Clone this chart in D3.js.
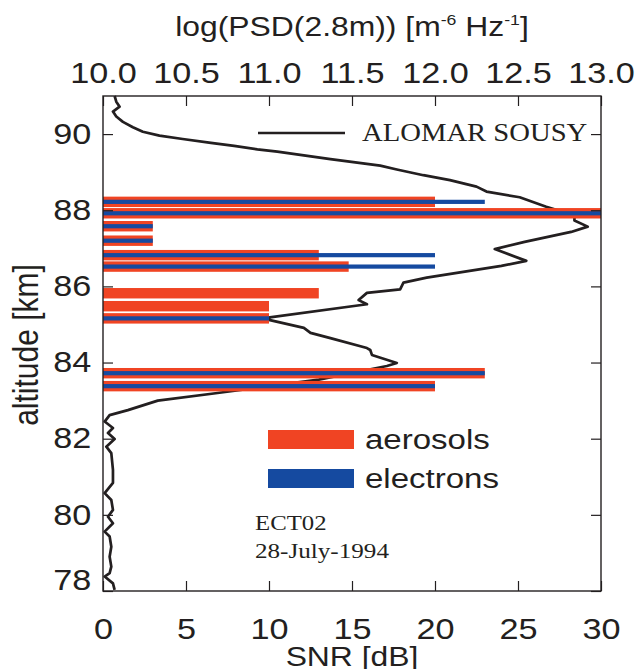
<!DOCTYPE html>
<html>
<head>
<meta charset="utf-8">
<script src="https://cdn.jsdelivr.net/npm/d3@7"></script>
<style>
  body { margin: 0; background: #ffffff; }
  svg text { font-family: 'Liberation Sans', Arial, sans-serif; fill: #231f20; }
  svg text.serif { font-family: 'Liberation Serif', 'Times New Roman', serif; }
</style>
</head>
<body>
<div id="graf"></div>
<script>
// Perfil SNR de aerosoles / electrones (barras) y log(PSD) de ALOMAR SOUSY (linea)

// I. Datos
// centro de cada celda de 300 m (km) y SNR en dB
altitudBins = [88.22, 87.92, 87.58, 87.20, 86.82, 86.52, 85.82, 85.48, 85.16, 83.72, 83.38]
aerosoles   = [20, 30, 3, 3, 13, 14.8, 13, 10, 10, 23, 20]
electrones  = [23, 30, 3, 3, 20, 20, null, null, 10, 23, 20]
anchoBin    = 0.3

// perfil de log(PSD(2.8m))
psdAltitud = [91.00, 90.85, 90.72, 90.59, 90.46, 90.32, 90.18, 90.06, 89.96, 89.87,
              89.77, 89.69, 89.60, 89.54, 89.34, 89.17, 89.07, 88.92, 88.79, 88.62,
              88.49, 88.34, 88.09, 87.87, 87.73, 87.57, 87.43, 87.17, 86.98, 86.67,
              86.54, 86.23, 86.10, 85.92, 85.83, 85.64, 85.53, 85.16, 84.91, 84.78,
              84.64, 84.38, 84.33, 84.20, 83.99, 83.91, 83.55, 83.20, 83.00, 82.75,
              82.62, 82.45, 82.28, 82.15, 81.99, 81.79, 81.62, 81.18, 80.84, 80.57,
              80.39, 80.13, 79.95, 79.78, 79.56, 79.43, 79.16, 78.90, 78.64, 78.47,
              78.38, 78.20, 78.03]
psdValor   = [10.07, 10.08, 10.10, 10.06, 10.08, 10.12, 10.18, 10.24, 10.34, 10.48,
              10.65, 10.79, 10.93, 11.05, 11.37, 11.67, 11.77, 11.93, 12.09, 12.25,
              12.31, 12.51, 12.67, 12.84, 12.84, 12.92, 12.82, 12.54, 12.36, 12.55,
              12.40, 11.95, 11.81, 11.79, 11.59, 11.54, 11.59, 10.96, 11.21, 11.25,
              11.37, 11.59, 11.61, 11.62, 11.77, 11.71, 11.30, 10.69, 10.33, 10.15,
              10.04, 10.01, 10.06, 10.03, 10.07, 10.02, 10.05, 10.06, 10.06, 10.01,
              10.05, 10.06, 10.03, 10.06, 10.01, 10.04, 10.05, 10.04, 10.05, 10.04,
              10.01, 10.06, 10.07]

snrTicks = [0, 5, 10, 15, 20, 25, 30]
psdTicks = [10.0, 10.5, 11.0, 11.5, 12.0, 12.5, 13.0]
altTicks = [78, 80, 82, 84, 86, 88, 90]

// II. Configuracion
ancho_total = 635
alto_total  = 669
izq = 103, der = 601, arriba = 96, abajo = 591
estir = 1.18          // el original esta estirado en horizontal
naranja = '#f04423'
azul    = '#154aa0'
tinta   = '#231f20'

svg = d3.select('#graf').append('svg')
        .attr('width', ancho_total)
        .attr('height', alto_total)

x    = d3.scaleLinear().domain([0, 30]).range([izq, der])
xPsd = d3.scaleLinear().domain([10, 13]).range([izq, der])
y    = d3.scaleLinear().domain([78, 91]).range([abajo, arriba])

// texto con el estiramiento horizontal
function texto(px, py, str, size, anchor, cls) {
  return svg.append('text')
    .attr('class', cls || null)
    .attr('transform', `translate(${px},${py}) scale(${estir},1)`)
    .attr('text-anchor', anchor || 'start')
    .attr('font-size', `${size}px`)
    .text(str)
}

// III. Curva PSD (debajo de las barras)
perfil = psdAltitud.map((a, i) => ({ alt: a, psd: psdValor[i] }))
linea = d3.line().x(d => xPsd(d.psd)).y(d => y(d.alt))

svg.append('path')
  .datum(perfil)
  .attr('d', linea)
  .attr('fill', 'none')
  .attr('stroke', tinta)
  .attr('stroke-width', 2.7)
  .attr('stroke-linejoin', 'round')

// IV. Barras
bins = altitudBins.map((a, i) => ({ alt: a, aer: aerosoles[i], ele: electrones[i] }))

svg.append('g').selectAll('rect')
  .data(bins)
  .join('rect')
    .attr('x', x(0))
    .attr('y', d => y(d.alt + anchoBin / 2) + 0.5)
    .attr('width', d => x(d.aer) - x(0))
    .attr('height', d => y(d.alt - anchoBin / 2) - y(d.alt + anchoBin / 2) - 1)
    .attr('fill', naranja)

svg.append('g').selectAll('rect')
  .data(bins.filter(d => d.ele != null))
  .join('rect')
    .attr('x', x(0))
    .attr('y', d => y(d.alt) - 2.1)
    .attr('width', d => x(d.ele) - x(0))
    .attr('height', 4.2)
    .attr('fill', azul)

// V. Ejes (ticks hacia adentro)
function menores(eje, valores, largo) {
  return eje.tickValues(valores).tickSize(-largo).tickFormat('')
}

ejeAbajo = svg.append('g').attr('transform', `translate(0,${abajo})`)
ejeAbajo.call(menores(d3.axisBottom(x), d3.range(0, 31), 5))
ejeAbajo.call(d3.axisBottom(x).tickValues(snrTicks).tickSize(-10).tickFormat(d3.format('d')))

ejeArriba = svg.append('g').attr('transform', `translate(0,${arriba})`)
ejeArriba.call(menores(d3.axisTop(xPsd), d3.range(100, 131).map(d => d / 10), 5))
ejeArriba.call(d3.axisTop(xPsd).tickValues(psdTicks).tickSize(-10).tickFormat(d3.format('.1f')))

ejeIzq = svg.append('g').attr('transform', `translate(${izq},0)`)
ejeIzq.call(menores(d3.axisLeft(y), d3.range(156, 183).map(d => d / 2), 5))
ejeIzq.call(d3.axisLeft(y).tickValues(altTicks).tickSize(-10).tickPadding(10))

ejeDer = svg.append('g').attr('transform', `translate(${der},0)`)
ejeDer.call(menores(d3.axisRight(y), d3.range(156, 183).map(d => d / 2), 5))
ejeDer.call(d3.axisRight(y).tickValues(altTicks).tickSize(-10).tickFormat(''))

svg.selectAll('.domain').remove()
svg.selectAll('.tick line').attr('stroke', tinta).attr('stroke-width', 1.2)
svg.selectAll('.tick text')
  .attr('font-size', '29px')
  .attr('font-family', null)
  .attr('fill', tinta)

ejeAbajo.selectAll('.tick text').attr('dy', null).attr('y', 48)
  .attr('transform', `scale(${estir},1)`)
ejeArriba.selectAll('.tick text').attr('dy', null).attr('y', -13)
  .attr('transform', `scale(${estir},1)`)
ejeIzq.selectAll('.tick text')
  .attr('transform', `scale(${estir},1)`)
  .attr('y', d => d == 78 ? -11 : 0)

// marco
svg.append('rect')
  .attr('x', izq).attr('y', arriba)
  .attr('width', der - izq).attr('height', abajo - arriba)
  .attr('fill', 'none')
  .attr('stroke', tinta)
  .attr('stroke-width', 1.4)

// VI. Titulos de ejes
texto(352, 666, 'SNR [dB]', 27, 'middle')

svg.append('text')
  .attr('transform', `translate(38,345) scale(${estir},1) rotate(-90)`)
  .attr('text-anchor', 'middle')
  .attr('font-size', '30px')
  .text('altitude [km]')

tit = texto(352, 36, 'log(PSD(2.8m)) [m', 27, 'middle')
tit.append('tspan').attr('font-size', '15px').attr('dy', -11).text('-6')
tit.append('tspan').attr('dy', 11).text(' Hz')
tit.append('tspan').attr('font-size', '15px').attr('dy', -11).text('-1')
tit.append('tspan').attr('dy', 11).text(']')

// VII. Leyendas
svg.append('line')
  .attr('x1', 258).attr('x2', 345)
  .attr('y1', 133).attr('y2', 133)
  .attr('stroke', tinta)
  .attr('stroke-width', 2.6)
texto(362, 141, 'ALOMAR SOUSY', 24.3, 'start', 'serif')

leyenda = [{ nombre: 'aerosols', color: naranja }, { nombre: 'electrons', color: azul }]
leyenda.forEach((d, i) => {
  svg.append('rect')
    .attr('x', 268)
    .attr('y', 430 + i * 39)
    .attr('width', 86)
    .attr('height', 19)
    .attr('fill', d.color)
  texto(365, 449 + i * 39, d.nombre, 28, 'start')
})

texto(255, 530, 'ECT02', 21, 'start', 'serif')
texto(255, 558, '28-July-1994', 21.3, 'start', 'serif')
</script>
</body>
</html>
